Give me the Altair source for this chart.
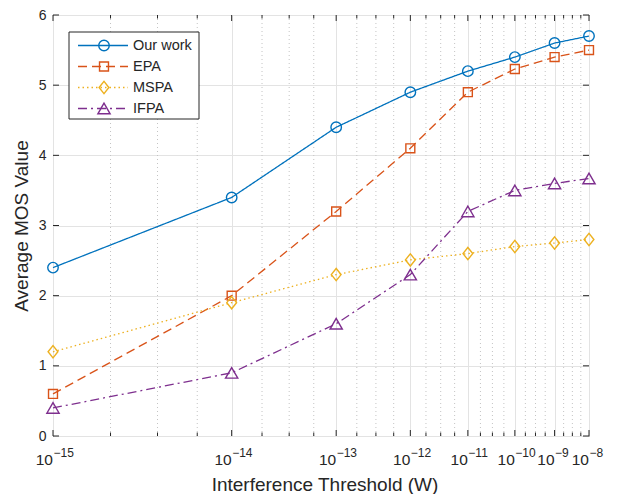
import altair as alt
import pandas as pd

# ---- data ----
threshold_idx = [1, 2, 3, 4, 5, 6, 7, 8]          # positions of 1e-15 ... 1e-8 (log-spaced index axis)
tick_base = ["10"] * 8
tick_exponents = ["\u221215", "\u221214", "\u221213", "\u221212", "\u221211", "\u221210", "\u22129", "\u22128"]
series_names = ["Our work", "EPA", "MSPA", "IFPA"]
our_work = [2.4, 3.4, 4.4, 4.9, 5.2, 5.4, 5.6, 5.7]
epa = [0.6, 2.0, 3.2, 4.1, 4.9, 5.23, 5.4, 5.5]
mspa = [1.2, 1.9, 2.3, 2.51, 2.6, 2.7, 2.75, 2.8]
ifpa = [0.4, 0.9, 1.6, 2.3, 3.2, 3.5, 3.6, 3.67]
y_ticks = [0, 1, 2, 3, 4, 5, 6]
minor_idx = [i + f for i in range(1, 8) for f in (0.25, 0.5, 0.75)]

W, H = 536, 421
FONT = "Liberation Sans"
TXT = "#262626"
GRID = "#e3e3e3"

colors = ["#0072BD", "#D95319", "#EDB120", "#7E2F8E"]
dashes = [[1, 0], [9, 5], [1.5, 3], [9, 4, 2, 4]]
shapes = ["circle", "square", "M-0.8,0L0,-1L0.8,0L0,1Z", "triangle-up"]
sizes = [110, 80, 150, 150]
values = [our_work, epa, mspa, ifpa]

xscale = alt.Scale(type="log", domain=[1, 8], nice=False)
yscale = alt.Scale(domain=[0, 6], nice=False)

x_axis = alt.Axis(values=threshold_idx, grid=True, gridColor=GRID, gridWidth=1,
                  labels=False, ticks=False, domain=False,
                  title="Interference Threshold (W)", titleFont=FONT, titleFontSize=19,
                  titleFontWeight="normal", titleColor=TXT, titleX=271.5, titleY=54,
                  titleBaseline="alphabetic", titleAlign="center")
y_axis = alt.Axis(values=y_ticks, grid=True, gridColor=GRID, gridWidth=1,
                  labels=True, labelFont=FONT, labelFontSize=14, labelColor=TXT, labelPadding=7,
                  ticks=False, domain=False,
                  title="Average MOS Value", titleFont=FONT, titleFontSize=19,
                  titleFontWeight="normal", titleColor=TXT, titleX=-26, titleY=210.5,
                  titleAngle=270, titleBaseline="alphabetic", titleAlign="center")


def X():
    return alt.X("k:Q", scale=xscale, axis=x_axis)


def Y():
    return alt.Y("v:Q", scale=yscale, axis=y_axis)


layers = []

# axes + major grid (invisible carrier layer)
axes_df = pd.DataFrame({"k": threshold_idx, "v": y_ticks + [6]})
layers.append(alt.Chart(axes_df).mark_point(opacity=0).encode(x=X(), y=Y()))

# minor dotted grid
minor_df = pd.DataFrame({"k": minor_idx})
layers.append(alt.Chart(minor_df).mark_rule(color="#c4c4c4", strokeDash=[1, 3], strokeWidth=1).encode(
    x=X()))

# inward ticks
major_df = pd.DataFrame({"k": threshold_idx})
for y1, y2 in [(H, H - 6), (0, 6)]:
    layers.append(alt.Chart(major_df).mark_rule(color=TXT, strokeWidth=1).encode(
        x=X(), y=alt.value(y1), y2=alt.value(y2)))
for y1, y2 in [(H, H - 3.5), (0, 3.5)]:
    layers.append(alt.Chart(minor_df).mark_rule(color=TXT, strokeWidth=1).encode(
        x=X(), y=alt.value(y1), y2=alt.value(y2)))
yt_df = pd.DataFrame({"v": y_ticks})
for x1, x2 in [(0, 6), (W, W - 6)]:
    layers.append(alt.Chart(yt_df).mark_rule(color=TXT, strokeWidth=1).encode(
        y=Y(), x=alt.value(x1), x2=alt.value(x2)))

# x tick labels 10^exp
lab_df = pd.DataFrame({"k": threshold_idx, "base": tick_base, "exp": tick_exponents})
layers.append(alt.Chart(lab_df).mark_text(align="right", baseline="alphabetic", font=FONT,
                                          fontSize=15.5, color=TXT).encode(
    x=X(), y=alt.value(H + 28.5), text="base:N"))
layers.append(alt.Chart(lab_df).mark_text(align="left", baseline="alphabetic", font=FONT,
                                          fontSize=12, color=TXT, dx=0.5).encode(
    x=X(), y=alt.value(H + 21), text="exp:N"))

# series
for name, vals, c, d, s, sz in zip(series_names, values, colors, dashes, shapes, sizes):
    df = pd.DataFrame({"k": threshold_idx, "v": vals})
    layers.append(alt.Chart(df).mark_line(color=c, strokeDash=d, strokeWidth=1.3).encode(
        x=X(), y=Y()))
    layers.append(alt.Chart(df).mark_point(shape=s, size=sz, filled=False, color=c,
                                           strokeWidth=1.4, opacity=1).encode(
        x=X(), y=Y()))

# legend
one = pd.DataFrame({"a": [0]})
layers.append(alt.Chart(one).mark_rect(fill="white", stroke=TXT, strokeWidth=1).encode(
    x=alt.value(16), x2=alt.value(146), y=alt.value(17), y2=alt.value(104)))
row_y = [30.5, 51.5, 72.5, 93.5]
for name, c, d, s, sz, ry in zip(series_names, colors, dashes, shapes, sizes, row_y):
    layers.append(alt.Chart(one).mark_rule(color=c, strokeDash=d, strokeWidth=1.3).encode(
        x=alt.value(25), x2=alt.value(75), y=alt.value(ry)))
    layers.append(alt.Chart(one).mark_point(shape=s, size=sz, filled=False, color=c,
                                            strokeWidth=1.4, opacity=1).encode(
        x=alt.value(51), y=alt.value(ry)))
    layers.append(alt.Chart(one).mark_text(align="left", baseline="middle", font=FONT,
                                           fontSize=14.5, color=TXT).encode(
        x=alt.value(80), y=alt.value(ry + 0.5), text=alt.value(name)))

chart = alt.layer(*layers).properties(
    width=W, height=H,
    autosize=alt.AutoSizeParams(type="none"),
    padding={"left": 45, "top": 7, "right": 20, "bottom": 58},
    background="white",
).configure_view(stroke=TXT, strokeWidth=1)

chart.save("out.html", embed_options={"renderer": "svg", "actions": False})
